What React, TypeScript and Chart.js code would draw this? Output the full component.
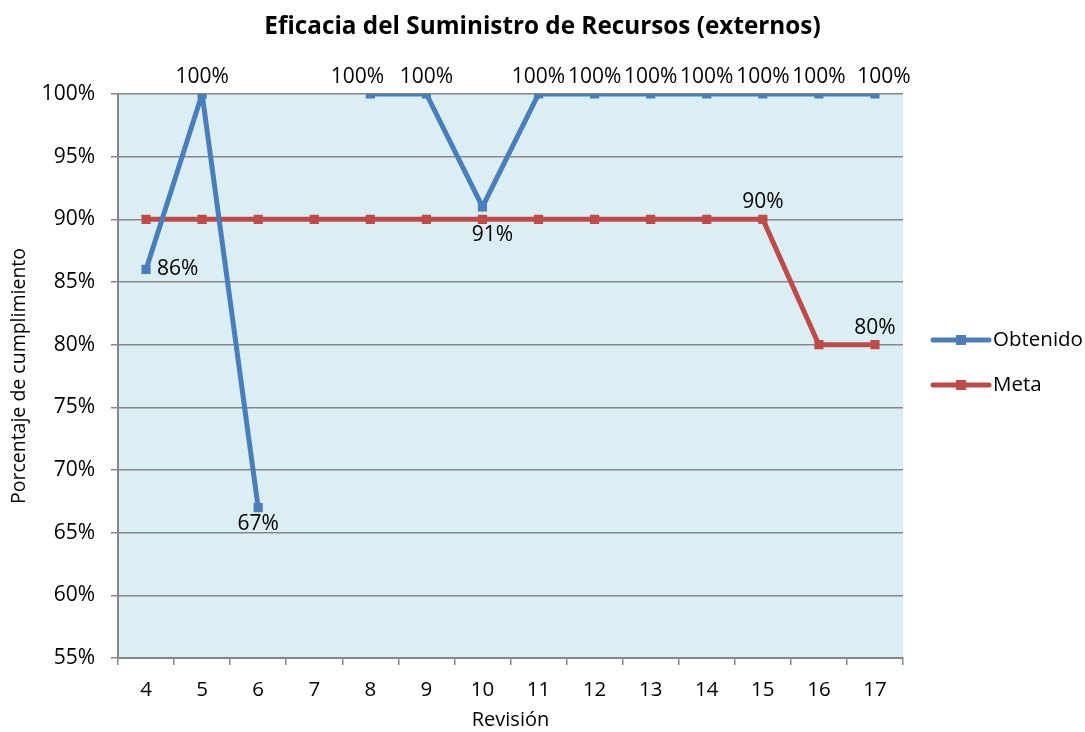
import React, { useEffect, useRef } from 'react';
import { Chart, registerables } from 'chart.js';

Chart.register(...registerables);

const FONT = "'Open Sans', sans-serif";

const titleText = 'Eficacia del Suministro de Recursos (externos)';
const xAxisTitle = 'Revisión';
const yAxisTitle = 'Porcentaje de cumplimiento';

const categories = ['4', '5', '6', '7', '8', '9', '10', '11', '12', '13', '14', '15', '16', '17'];
const obtenido: (number | null)[] = [86, 100, 67, null, 100, 100, 91, 100, 100, 100, 100, 100, 100, 100];
const metaValues: number[] = [90, 90, 90, 90, 90, 90, 90, 90, 90, 90, 90, 90, 80, 80];

const yMin = 55;
const yMax = 100;
const yStep = 5;

// where each value label sits relative to its point (null = no label)
const obtenidoLabelPlacement = ['right', 'above', 'below', null, 'aboveLeft', 'above', 'belowFar', 'above', 'above', 'above', 'above', 'above', 'above', 'aboveRight'];
const metaLabelPlacement = [null, null, null, null, null, null, null, null, null, null, null, 'above', null, 'above'];

const BLUE = '#4A7EBB';
const RED = '#BE4B48';
const PLOT_BG = '#DBEEF4';
const GRID = '#878787';

const plotBgPlugin = {
  id: 'plotBg',
  beforeDraw(chart: any) {
    const { ctx, chartArea } = chart;
    ctx.save();
    ctx.fillStyle = PLOT_BG;
    ctx.fillRect(chartArea.left, chartArea.top, chartArea.right - chartArea.left, chartArea.bottom - chartArea.top);
    ctx.restore();
  },
};

const centeredTitlePlugin = {
  id: 'centeredTitle',
  afterDraw(chart: any) {
    const { ctx, width } = chart;
    ctx.save();
    ctx.fillStyle = '#000';
    ctx.font = `bold 24.3px ${FONT}`;
    ctx.textAlign = 'center';
    ctx.textBaseline = 'middle';
    ctx.fillText(titleText, width / 2, 27);
    ctx.restore();
  },
};

const valueLabelPlugin = {
  id: 'valueLabels',
  afterDatasetsDraw(chart: any) {
    const ctx = chart.ctx;
    ctx.save();
    ctx.font = `21px ${FONT}`;
    ctx.fillStyle = '#000';
    chart.data.datasets.forEach((ds: any, di: number) => {
      const meta = chart.getDatasetMeta(di);
      const placements = ds.labelPlacement || [];
      meta.data.forEach((pt: any, i: number) => {
        const v = ds.data[i];
        const p = placements[i];
        if (v == null || !p) return;
        const text = `${v}%`;
        let x = pt.x;
        let y = pt.y;
        ctx.textBaseline = 'middle';
        ctx.textAlign = 'center';
        if (p === 'above') { y -= 17; }
        else if (p === 'aboveLeft') { y -= 17; x -= 13; }
        else if (p === 'aboveRight') { y -= 17; x += 9; }
        else if (p === 'below') { y += 16; }
        else if (p === 'belowFar') { y += 28; x += 10; }
        else if (p === 'right') { ctx.textAlign = 'left'; x += 11; }
        ctx.fillText(text, x, y);
      });
    });
    ctx.restore();
  },
};

const sideLegendPlugin = {
  id: 'sideLegend',
  afterDraw(chart: any) {
    const { ctx, chartArea } = chart;
    ctx.save();
    const mid = (chartArea.top + chartArea.bottom) / 2;
    const x0 = chartArea.right + 30;
    chart.data.datasets.forEach((ds: any, i: number) => {
      const y = mid - 36 + i * 45;
      ctx.strokeStyle = ds.borderColor;
      ctx.lineWidth = 5;
      ctx.lineCap = 'round';
      ctx.beginPath();
      ctx.moveTo(x0, y);
      ctx.lineTo(x0 + 56, y);
      ctx.stroke();
      ctx.fillStyle = ds.backgroundColor;
      ctx.fillRect(x0 + 28 - 5, y - 5, 10, 10);
      ctx.fillStyle = '#000';
      ctx.font = `20.5px ${FONT}`;
      ctx.textAlign = 'left';
      ctx.textBaseline = 'middle';
      ctx.fillText(ds.label, x0 + 60, y);
    });
    ctx.restore();
  },
};

export default function App() {
  const canvasRef = useRef<HTMLCanvasElement | null>(null);

  useEffect(() => {
    document.body.style.margin = '0';
    const canvas = canvasRef.current;
    if (!canvas) return;
    const chart = new Chart(canvas, {
      type: 'line',
      data: {
        labels: categories,
        datasets: [
          {
            label: 'Obtenido',
            data: obtenido,
            borderColor: BLUE,
            backgroundColor: BLUE,
            borderWidth: 5,
            pointStyle: 'rect',
            pointRadius: 6.5,
            pointBorderWidth: 0,
            pointBackgroundColor: BLUE,
            spanGaps: false,
            tension: 0,
            labelPlacement: obtenidoLabelPlacement,
          } as any,
          {
            label: 'Meta',
            data: metaValues,
            borderColor: RED,
            backgroundColor: RED,
            borderWidth: 5,
            pointStyle: 'rect',
            pointRadius: 6.5,
            pointBorderWidth: 0,
            pointBackgroundColor: RED,
            tension: 0,
            labelPlacement: metaLabelPlacement,
          } as any,
        ],
      },
      options: {
        responsive: false,
        animation: false,
        layout: { padding: { left: 0, right: 182, top: 94, bottom: 0 } },
        plugins: {
          legend: { display: false },
          tooltip: { enabled: false },
          title: { display: false },
        },
        scales: {
          x: {
            type: 'category',
            offset: true,
            grid: {
              offset: true,
              drawOnChartArea: false,
              drawTicks: true,
              tickLength: 7,
              color: GRID,
              lineWidth: 1.5,
            },
            border: { display: true, color: GRID, width: 2 },
            ticks: { color: '#000', font: { family: FONT, size: 20.5 }, padding: 13, maxRotation: 0 },
            title: {
              display: true,
              text: xAxisTitle,
              color: '#000',
              font: { family: FONT, size: 20, lineHeight: 1.2 },
              padding: { top: 0, bottom: 0 },
            },
            afterFit(scale: any) { scale.height = 74; },
          },
          y: {
            min: yMin,
            max: yMax,
            grid: {
              color: GRID,
              lineWidth: 1.5,
              drawTicks: true,
              tickLength: 7,
            },
            border: { display: true, color: GRID, width: 2 },
            ticks: {
              stepSize: yStep,
              color: '#000',
              font: { family: FONT, size: 21 },
              padding: 16,
              callback: (v: any) => `${v}%`,
            },
            title: {
              display: true,
              text: yAxisTitle,
              color: '#000',
              font: { family: FONT, size: 19.5, lineHeight: 1.2 },
              padding: { top: 8, bottom: 0 },
            },
            afterFit(scale: any) { scale.width = 118; },
          },
        },
      } as any,
      plugins: [plotBgPlugin, valueLabelPlugin, sideLegendPlugin, centeredTitlePlugin],
    });
    return () => chart.destroy();
  }, []);

  return (
    <div style={{ position: 'fixed', left: 0, top: 0, width: 1085, height: 732, background: '#fff' }}>
      <canvas ref={canvasRef} width={1085} height={732} style={{ display: 'block' }} />
    </div>
  );
}
